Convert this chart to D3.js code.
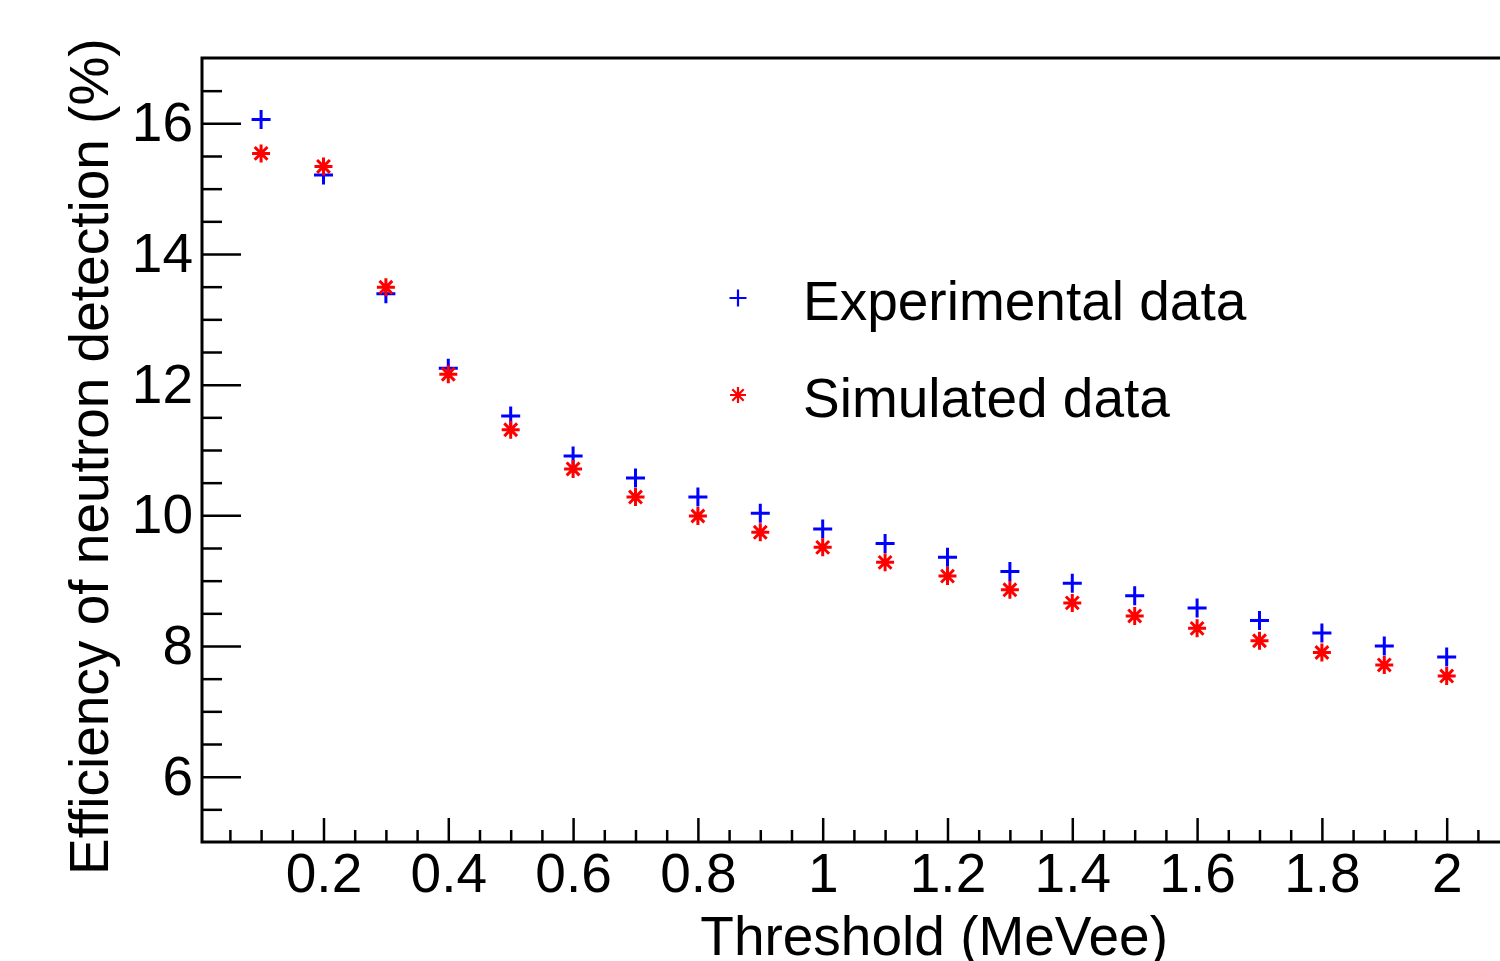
<!DOCTYPE html>
<html>
<head>
<meta charset="utf-8">
<script src="https://cdn.jsdelivr.net/npm/d3@7"></script>
<style>
  body { margin: 0; background: #fff; }
  svg { display: block; font-family: "Liberation Sans", Arial, Helvetica, sans-serif; }
</style>
</head>
<body>
<div id="chart"></div>
<script>
// threshold values (MeVee)
const thresholds = [0.1, 0.2, 0.3, 0.4, 0.5, 0.6, 0.7, 0.8, 0.9, 1.0,
                    1.1, 1.2, 1.3, 1.4, 1.5, 1.6, 1.7, 1.8, 1.9, 2.0];
// efficiency (%)
const experimental = [16.06, 15.21, 13.39, 12.25, 11.52, 10.91, 10.57, 10.28, 10.03, 9.79,
                      9.57, 9.36, 9.14, 8.96, 8.77, 8.58, 8.39, 8.20, 8.00, 7.83];
const simulated = [15.54, 15.34, 13.49, 12.16, 11.31, 10.71, 10.28, 9.99, 9.74, 9.51,
                   9.28, 9.07, 8.86, 8.66, 8.46, 8.27, 8.08, 7.90, 7.71, 7.54];
const xMajorTicks = [0.2, 0.4, 0.6, 0.8, 1, 1.2, 1.4, 1.6, 1.8, 2];
const yMajorTicks = [6, 8, 10, 12, 14, 16];
const seriesNames = ["Experimental data", "Simulated data"];

const W = 1500, H = 961;
const MARGIN = {top: 58, left: 202, bottom: 119};
const PLOT_H = H - MARGIN.top - MARGIN.bottom;

var x = d3.scaleLinear()
        .domain([0.0053, 2.1])
        .range([0, 624 * (2.1 - 0.0053)]);

var y = d3.scaleLinear()
        .domain([5, 17])
        .range([PLOT_H, 0]);

const xMinor = d3.range(0.05, 2.1, 0.05).filter(v => Math.abs(v / 0.2 - Math.round(v / 0.2)) > 1e-6);
const yMinor = d3.range(5.5, 17, 0.5).filter(v => v % 2 !== 0);

const svg = d3.select("#chart")
        .append("svg")
        .attr("width", W)
        .attr("height", H);

const g = svg.append("g")
        .attr("transform", `translate(${MARGIN.left},${MARGIN.top})`);

const fmt = d => String(+d.toFixed(1));

// x axis (ticks pointing up)
const gx = g.append("g")
        .attr("transform", `translate(0,${PLOT_H})`)
        .call(d3.axisBottom(x).tickValues(xMajorTicks).tickFormat(fmt).tickSize(-24).tickPadding(11));
g.append("g")
        .attr("transform", `translate(0,${PLOT_H})`)
        .call(d3.axisBottom(x).tickValues(xMinor).tickFormat("").tickSize(-12));

// y axis (ticks pointing right)
const gy = g.append("g")
        .call(d3.axisLeft(y).tickValues(yMajorTicks).tickFormat(fmt).tickSize(-39).tickPadding(9));
g.append("g")
        .call(d3.axisLeft(y).tickValues(yMinor).tickFormat("").tickSize(-20));

g.selectAll(".domain").remove();
g.selectAll(".tick line").attr("stroke", "#000").attr("stroke-width", 2.5);
g.selectAll(".tick text")
        .attr("fill", "#000")
        .style("font-size", "55px");

// frame
g.append("rect")
        .attr("x", 0)
        .attr("y", 0)
        .attr("width", x.range()[1] + 20)
        .attr("height", PLOT_H)
        .attr("fill", "none")
        .attr("stroke", "#000")
        .attr("stroke-width", 3);

// axis titles
svg.append("text")
        .attr("x", 1168)
        .attr("y", 955)
        .attr("text-anchor", "end")
        .style("font-size", "55px")
        .text("Threshold (MeVee)");

svg.append("text")
        .attr("transform", "translate(108,875) rotate(-90)")
        .attr("text-anchor", "start")
        .style("font-size", "55px")
        .text("Efficiency of neutron detection (%)");

// markers
const PLUS = "M-9.5,0H9.5M0,-9.5V9.5";
const STAR = "M-9,0H9M0,-9V9M-6.4,-6.4L6.4,6.4M-6.4,6.4L6.4,-6.4";

const expData = thresholds.map((t, i) => ({t: t, v: experimental[i]}));
const simData = thresholds.map((t, i) => ({t: t, v: simulated[i]}));

g.selectAll(".exp_pt")
        .data(expData)
        .enter()
        .append("path")
        .classed("exp_pt", true)
        .attr("d", PLUS)
        .attr("transform", d => `translate(${x(d.t)},${y(d.v)})`)
        .attr("fill", "none")
        .attr("stroke", "#0000ff")
        .attr("stroke-width", 3);

g.selectAll(".sim_pt")
        .data(simData)
        .enter()
        .append("path")
        .classed("sim_pt", true)
        .attr("d", STAR)
        .attr("transform", d => `translate(${x(d.t)},${y(d.v)})`)
        .attr("fill", "none")
        .attr("stroke", "#ff0000")
        .attr("stroke-width", 3);

// legend
const legend = svg.append("g").attr("transform", "translate(738,0)");
const legendRows = [
    {name: seriesNames[0], d: "M-8.5,0H8.5M0,-8.5V8.5", color: "#0000ff", my: 298, ty: 320},
    {name: seriesNames[1], d: "M-8,0H8M0,-8V8M-5.7,-5.7L5.7,5.7M-5.7,5.7L5.7,-5.7", color: "#ff0000", my: 395, ty: 417}
];
legendRows.forEach(r => {
    legend.append("path")
        .attr("d", r.d)
        .attr("transform", `translate(0,${r.my})`)
        .attr("fill", "none")
        .attr("stroke", r.color)
        .attr("stroke-width", 2.2);
    legend.append("text")
        .attr("x", 65)
        .attr("y", r.ty)
        .style("font-size", "55px")
        .text(r.name);
});
</script>
</body>
</html>
